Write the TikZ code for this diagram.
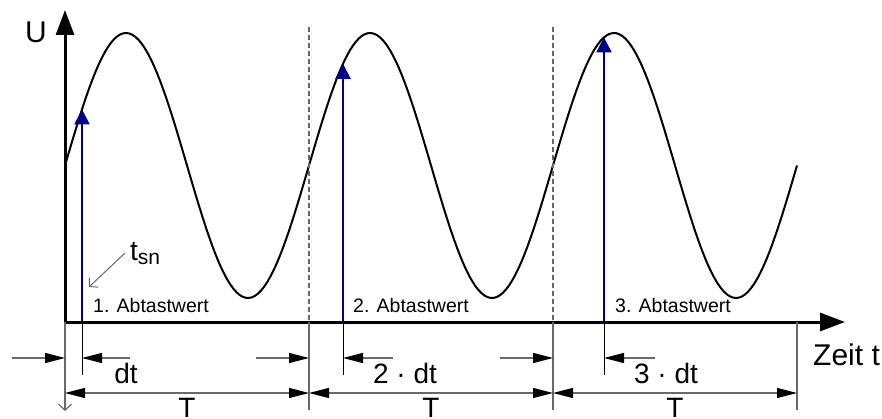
\documentclass[tikz,border=0pt]{standalone}
\usepackage{fontspec}
\setmainfont{Liberation Sans}
\usetikzlibrary{arrows.meta}

\definecolor{sampleblue}{RGB}{0,0,140}
\definecolor{dimgray}{RGB}{105,105,105}

\begin{document}
\begin{tikzpicture}[x=1pt, y=-1pt,
  axis/.style={line width=3pt, line cap=rect, -{Triangle[length=25pt,width=18pt]}},
  wave/.style={line width=2pt},
  sample/.style={line width=2pt, sampleblue, -{Triangle[length=15pt,width=15pt]}},
  periodline/.style={dimgray, line width=1.2pt, dash pattern=on 5pt off 3pt},
  extline/.style={dimgray, line width=1.2pt},
  markline/.style={black, line width=1pt},
  dimarrow/.style={dimgray, line width=1.2pt, -{Triangle[length=20pt,width=10pt,color=black]}},
  dimboth/.style={dimgray, line width=1.2pt, {Triangle[length=20pt,width=10pt,color=black]}-{Triangle[length=20pt,width=10pt,color=black]}},
  pointer/.style={dimgray, line width=1pt, -{Straight Barb[length=6pt,width=13pt]}},
  bigtext/.style={font=\fontsize{28}{32}\selectfont, inner sep=0pt, anchor=base},
  smalltext/.style={font=\fontsize{19.5}{22}\selectfont, inner sep=0pt, anchor=base west}]
\useasboundingbox (0,0) rectangle (882,419);

% period borders on the time axis
\coordinate (p0) at (65,322);
\coordinate (p1) at (309,322);
\coordinate (p2) at (553,322);
\coordinate (p3) at (797,322);
\coordinate (ytop) at (65,10);
\coordinate (xend) at (845,322);

% signal
\draw[wave] plot[domain=65:797, samples=240] (\x, {165.5-132.5*sin((\x-65)/244*360)});

% period lines
\draw[periodline] (309,27) -- (p1);
\draw[periodline] (553,27) -- (p2);

% samples
\coordinate (s1) at (82,322);
\coordinate (s2) at (343,322);
\coordinate (s3) at (604,322);
\coordinate (v1) at (82,{165.5-132.5*sin(17/244*360)});
\coordinate (v2) at (343,{165.5-132.5*sin(34/244*360)});
\coordinate (v3) at (604,{165.5-132.5*sin(51/244*360)});
\draw[sample] (s1) -- (v1);
\draw[sample] (s2) -- (v2);
\draw[sample] (s3) -- (v3);

% axes
\draw[axis] (p0) -- (ytop);
\draw[axis] (p0) -- (xend);
\node (ulabel) [bigtext, font=\fontsize{30}{34}\selectfont] at (36,43) {U};
\node (tlabel) [bigtext, font=\fontsize{30}{34}\selectfont, anchor=base west] at (813,365) {Zeit t};

% sample labels
\node (abt1) [smalltext] at (93,312) {1. Abtastwert};
\node (abt2) [smalltext] at (353,312) {2. Abtastwert};
\node (abt3) [smalltext] at (615,312) {3. Abtastwert};
\node (tsn) [inner sep=0pt, anchor=base west, font=\fontsize{28}{32}\selectfont] at (130,261) {t\raisebox{-4pt}{\fontsize{21}{24}\selectfont sn}};
\coordinate (tsnfrom) at (125,253);
\coordinate (tsnto) at (89,287);
\draw[pointer] (tsnfrom) -- (tsnto);

% extension lines below the axis
\coordinate (e0) at (65,411);
\coordinate (e1) at (309,410);
\coordinate (e2) at (553,410);
\coordinate (e3) at (797,410);
\draw[pointer, line width=1.2pt] (p0) -- (e0);
\draw[extline] (p1) -- (e1);
\draw[extline] (p2) -- (e2);
\draw[extline] (p3) -- (e3);
\draw[markline] (s1) -- (82,375);
\draw[markline] (s2) -- (343,375);
\draw[markline] (s3) -- (604,375);

% dt dimensions
\coordinate (d0) at (12,358);
\coordinate (d1) at (130,358);
\coordinate (d2) at (256,358);
\coordinate (d3) at (393,358);
\coordinate (d4) at (500,358);
\coordinate (d5) at (655,358);
\draw[dimarrow] (d0) -- (65,358);
\draw[dimarrow] (d1) -- (82,358);
\draw[dimarrow] (d2) -- (309,358);
\draw[dimarrow] (d3) -- (343,358);
\draw[dimarrow] (d4) -- (553,358);
\draw[dimarrow] (d5) -- (604,358);
\node (dt1) [bigtext] at (126,383) {dt};
\node (dt2) [bigtext] at (405,383) {2 · dt};
\node (dt3) [bigtext] at (666,383) {3 · dt};

% period dimensions
\coordinate (q0) at (65,393);
\coordinate (q1) at (309,393);
\coordinate (q2) at (553,393);
\coordinate (q3) at (797,393);
\draw[dimboth] (q0) -- (q1);
\draw[dimboth] (q1) -- (q2);
\draw[dimboth] (q2) -- (q3);
\node (T1) [bigtext] at (187,417) {T};
\node (T2) [bigtext] at (431,417) {T};
\node (T3) [bigtext] at (675,417) {T};
\end{tikzpicture}
\end{document}
